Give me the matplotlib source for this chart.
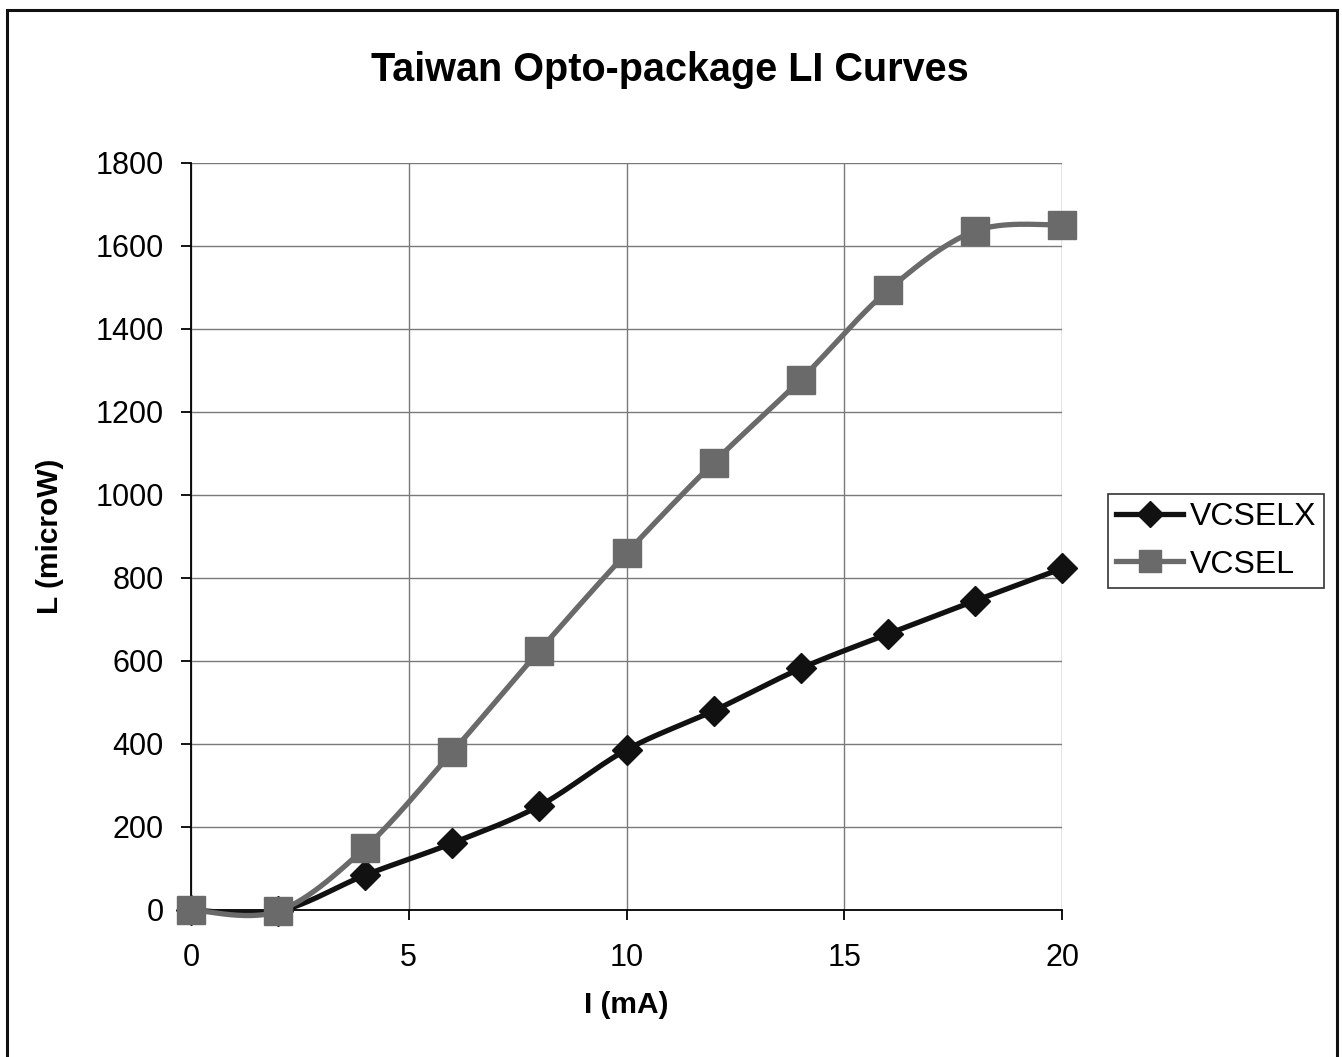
import numpy as np
import matplotlib
matplotlib.use("Agg")
import matplotlib.pyplot as plt
from matplotlib.lines import Line2D
from matplotlib.patches import Rectangle

plt.rcParams['font.family'] = ['Liberation Sans', 'DejaVu Sans']

current_ma = [0, 2, 4, 6, 8, 10, 12, 14, 16, 18, 20]
vcselx_uw = [0, -3, 84, 161, 251, 386, 480, 582, 665, 745, 823]
vcsel_uw = [0, -3, 150, 381, 625, 860, 1078, 1278, 1493, 1636, 1651]


def smooth_curve(xs, ys, steps=30):
    """Bezier smoothing through the points (Catmull-Rom style tangents)."""
    xs = np.asarray(xs, float)
    ys = np.asarray(ys, float)
    n = len(xs)
    out_x, out_y = [], []
    t = np.linspace(0, 1, steps)
    for i in range(n - 1):
        p0 = np.array([xs[max(i - 1, 0)], ys[max(i - 1, 0)]])
        p1 = np.array([xs[i], ys[i]])
        p2 = np.array([xs[i + 1], ys[i + 1]])
        p3 = np.array([xs[min(i + 2, n - 1)], ys[min(i + 2, n - 1)]])
        c1 = p1 + (p2 - p0) / 6
        c2 = p2 - (p3 - p1) / 6
        b = ((1 - t) ** 3)[:, None] * p1 + (3 * (1 - t) ** 2 * t)[:, None] * c1 \
            + (3 * (1 - t) * t ** 2)[:, None] * c2 + (t ** 3)[:, None] * p2
        out_x.extend(b[:, 0])
        out_y.extend(b[:, 1])
    return np.array(out_x), np.array(out_y)


fig = plt.figure(figsize=(13.42, 10.57), dpi=100)
ax = fig.add_axes([0.1423, 0.1391, 0.6491, 0.7067])

black = '#111111'
gray = '#6a6a6a'

sx, sy = smooth_curve(current_ma, vcselx_uw)
ax.plot(sx, sy, color=black, lw=3.8, zorder=3, solid_capstyle='round', clip_on=False)
ax.plot(current_ma, vcselx_uw, ls='none', marker='D', ms=15, color=black,
        zorder=4, clip_on=False)

sx, sy = smooth_curve(current_ma, vcsel_uw)
ax.plot(sx, sy, color=gray, lw=3.8, zorder=5, solid_capstyle='round', clip_on=False)
ax.plot(current_ma, vcsel_uw, ls='none', marker='s', ms=20, color=gray,
        zorder=6, clip_on=False)

ax.set_xlim(0, 20)
ax.set_ylim(0, 1800)
ax.set_xticks([0, 5, 10, 15, 20])
ax.set_yticks(np.arange(0, 1801, 200))
ax.grid(True, color='#7a7a7a', lw=1.0)
ax.set_axisbelow(True)
for s in ['top', 'right']:
    ax.spines[s].set_visible(False)
for s in ['left', 'bottom']:
    ax.spines[s].set_color('black')
    ax.spines[s].set_linewidth(1.3)
    ax.spines[s].set_zorder(2)
ax.tick_params(direction='out', length=7.5, width=1.3, labelsize=22)
ax.tick_params(axis='y', pad=12)
ax.tick_params(axis='x', pad=16)

ax.set_xlabel('I (mA)', fontsize=21.5, fontweight='bold', labelpad=13)
ax.set_ylabel('L (microW)', fontsize=21.5, fontweight='bold', labelpad=23)
fig.text(0.4995, 0.9335, 'Taiwan Opto-package LI Curves', ha='center', va='center',
         fontsize=28.5, fontweight='bold')

handles = [
    Line2D([], [], color=black, lw=3.8, marker='D', ms=13),
    Line2D([], [], color=gray, lw=3.8, marker='s', ms=16),
]
leg = fig.legend(handles, ['VCSELX', 'VCSEL'], loc='upper left',
                 bbox_to_anchor=(1108 / 1342, 1 - 494 / 1057),
                 fontsize=23, frameon=True, fancybox=False, borderpad=0.25,
                 handlelength=2.1, handletextpad=0.2, labelspacing=0.55,
                 borderaxespad=0)
leg.get_frame().set_edgecolor('black')
leg.get_frame().set_linewidth(1.2)

# outer chart border
fig.patches.append(Rectangle((7 / 1342, -0.01), 1330 / 1342, 1 - 10 / 1057 + 0.01,
                             transform=fig.transFigure, fill=False,
                             edgecolor='#111111', lw=2.2))

fig.savefig('out.png', dpi=100)
